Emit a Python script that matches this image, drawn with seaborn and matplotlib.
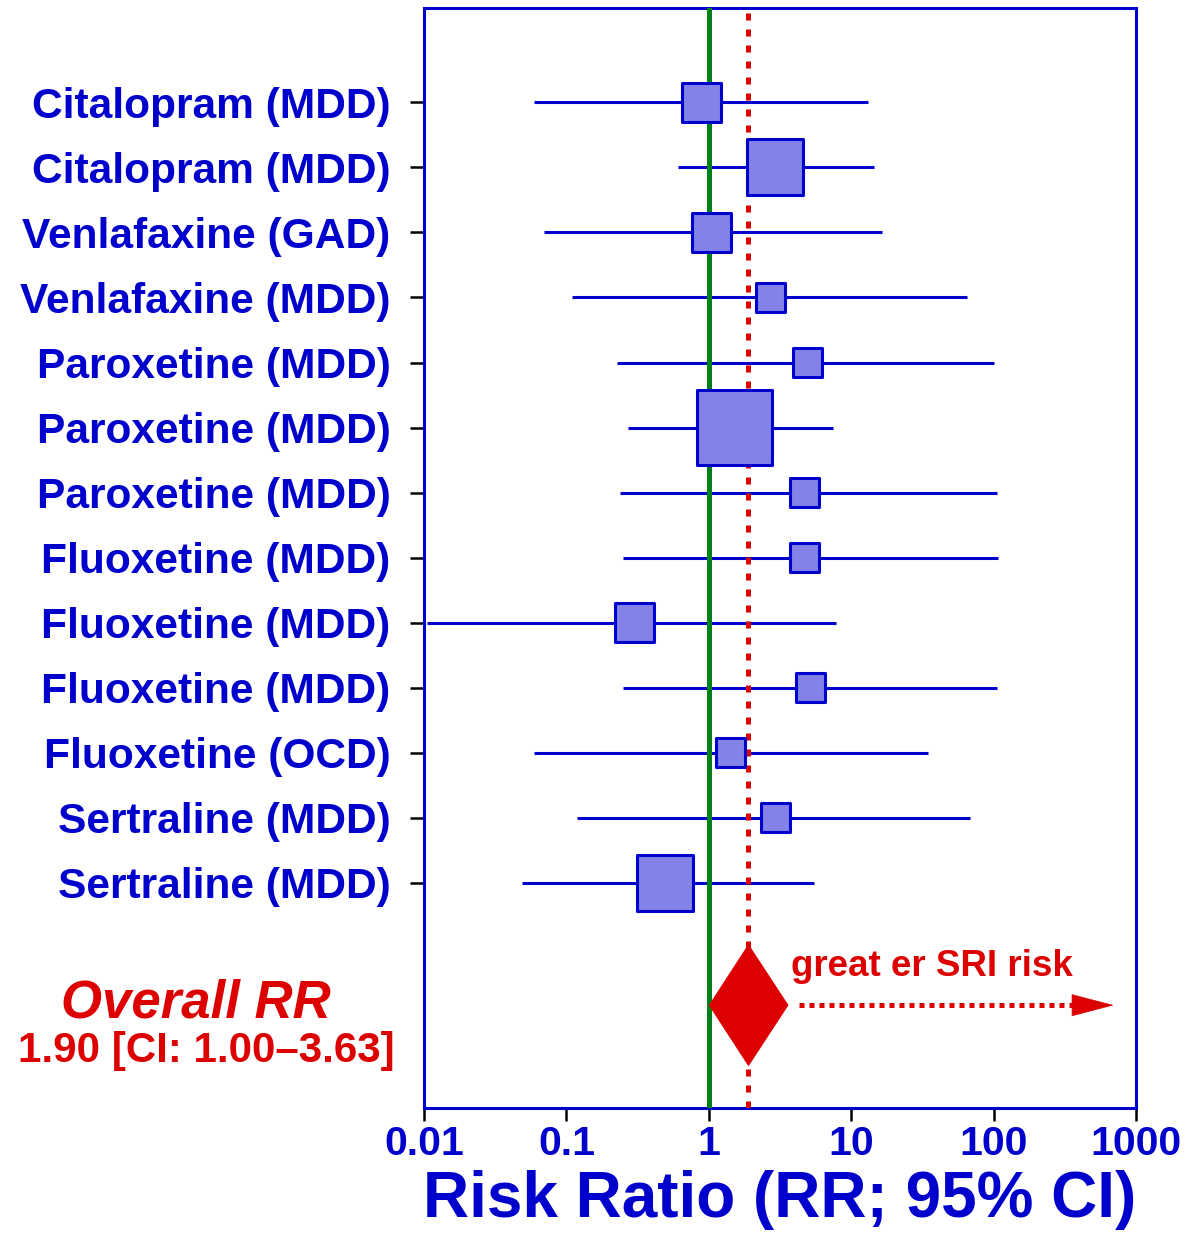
import numpy as np
import pandas as pd
import seaborn as sns
import matplotlib
matplotlib.use("Agg")
import matplotlib.pyplot as plt
from matplotlib.ticker import FixedLocator, NullLocator

# Study data
studies = ["Citalopram (MDD)", "Citalopram (MDD)", "Venlafaxine (GAD)",
           "Venlafaxine (MDD)", "Paroxetine (MDD)", "Paroxetine (MDD)",
           "Paroxetine (MDD)", "Fluoxetine (MDD)", "Fluoxetine (MDD)",
           "Fluoxetine (MDD)", "Fluoxetine (OCD)", "Sertraline (MDD)",
           "Sertraline (MDD)"]
rr = [0.89, 2.9, 1.05, 2.72, 4.96, 1.52, 4.72, 4.72, 0.30, 5.2, 1.43, 2.96, 0.49]
ci_lo = [0.059, 0.61, 0.070, 0.109, 0.226, 0.27, 0.237, 0.249, 0.0105, 0.249, 0.059, 0.118, 0.049]
ci_hi = [13.1, 14.4, 16.4, 64.8, 100, 7.5, 105, 108, 7.8, 105, 34.5, 68, 5.5]
weight = [1.8, 3.7, 1.8, 1.0, 1.0, 6.8, 1.0, 1.0, 1.8, 1.0, 1.0, 1.0, 3.7]

# pooled estimate
overall_rr = 1.90
overall_lo = 1.00
overall_hi = 3.63

xticks = [0.01, 0.1, 1, 10, 100, 1000]
xtick_labels = ["0.01", "0.1", "1", "10", "100", "1000"]

BLUE = "#0000CC"
FILL = "#8282E8"
RED = "#DD0000"
GREEN = "#00801A"

sns.set_theme(style="white")
plt.rcParams["font.family"] = ["Liberation Sans", "DejaVu Sans"]

df = pd.DataFrame({"row": np.arange(len(studies)), "rr": rr,
                   "lo": ci_lo, "hi": ci_hi, "weight": weight})

fig = plt.figure(figsize=(11.87, 12.33), dpi=100)
ax = fig.add_axes([0.3572, 0.1014, 0.5998, 0.8921])

# confidence intervals
ax.hlines(df["row"], df["lo"], df["hi"], color=BLUE, lw=2.2, zorder=2)

# reference lines
ax.axvline(1, color=GREEN, lw=3.6, zorder=3)
ax.axvline(overall_rr, color=RED, lw=3.6, ls=(0, (1.4, 1.8)), zorder=3)

# weighted boxes
unit = (29 * 0.72) ** 2
sns.scatterplot(data=df, x="rr", y="row", size="weight",
                sizes=(min(weight) * unit, max(weight) * unit),
                size_norm=(min(weight), max(weight)),
                marker="s", color=FILL, edgecolor=BLUE, linewidth=2.2,
                legend=False, zorder=4, ax=ax)

# pooled diamond
yd = 13.88
h = 0.94
ax.fill([overall_lo, overall_rr, overall_hi, overall_rr],
        [yd, yd - h, yd, yd + h], color=RED, lw=0, zorder=5)

# "greater risk" arrow
ax.plot([overall_hi * 1.18, 366], [yd, yd], color=RED, lw=3.6,
        ls=(0, (1, 1)), solid_capstyle="butt", zorder=5)
ax.annotate("", xy=(698, yd), xytext=(366, yd),
            arrowprops=dict(arrowstyle="-|>,head_length=2.9,head_width=0.76",
                            color=RED, lw=0.5, shrinkA=0, shrinkB=0,
                            mutation_scale=10), zorder=5)
ax.text(overall_hi * 1.04, 13.28, "great er SRI risk", color=RED,
        fontsize=26.5, fontweight="bold", va="center", ha="left")

ax.set_xscale("log")
ax.set_xlim(0.01, 1000)
ax.set_ylim(15.46, -1.45)
ax.xaxis.set_major_locator(FixedLocator(xticks))
ax.xaxis.set_minor_locator(NullLocator())
ax.set_xticklabels(xtick_labels)
ax.set_yticks(df["row"])
ax.set_yticklabels(studies)

ax.tick_params(axis="x", which="major", bottom=True, length=9, width=1.8,
               color="black", direction="out", pad=3, labelsize=29.5,
               labelcolor=BLUE)
ax.tick_params(axis="y", which="major", left=True, length=10, width=1.8,
               color="black", direction="out", pad=14, labelsize=30.6,
               labelcolor=BLUE)
for lab in ax.get_xticklabels() + ax.get_yticklabels():
    lab.set_fontweight("bold")

for sp in ax.spines.values():
    sp.set_color(BLUE)
    sp.set_linewidth(2.2)

ax.set_xlabel("Risk Ratio (RR; 95% CI)", fontsize=46, fontweight="bold",
              color=BLUE, labelpad=5)
ax.set_ylabel("")

fig.text(196 / 1187, 1 - 1018 / 1233, "Overall RR", color=RED, fontsize=38,
         fontweight="bold", fontstyle="italic", ha="center", va="baseline")
fig.text(206 / 1187, 1 - 1062 / 1233, "1.90 [CI: 1.00\u20133.63]", color=RED,
         fontsize=30.3, fontweight="bold", ha="center", va="baseline")

fig.savefig("out.png", dpi=100)
